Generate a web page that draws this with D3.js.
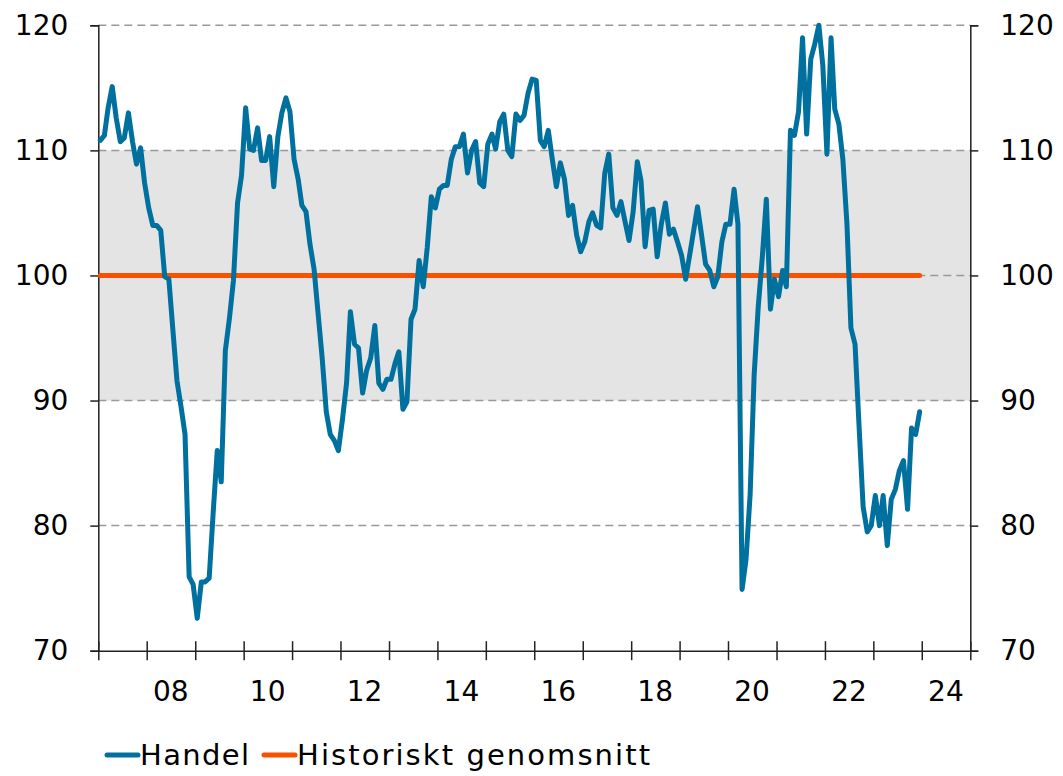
<!DOCTYPE html>
<html>
<head>
<meta charset="utf-8">
<script src="https://cdn.jsdelivr.net/npm/d3@7"></script>
<style>
  body { margin: 0; background: #fff; }
  text { font-family: "DejaVu Sans", Verdana, sans-serif; fill: #000; }
</style>
</head>
<body>
<svg width="1063" height="776"></svg>
<script>
// Handel, monthly from Jan 2007 to Dec 2023
const startYear = 2007;
const handel = [
  110.8, 111.2, 113.4, 115.1, 112.6, 110.7, 111.0, 113.0, 110.7, 108.9, 110.2, 107.4,
  105.4, 104.0, 104.0, 103.6, 99.9, 99.7, 95.7, 91.6, 89.5, 87.3, 75.9, 75.3,
  72.6, 75.5, 75.5, 75.8, 81.0, 86.0, 83.5, 94.0, 96.6, 99.6, 105.8, 108.0,
  113.4, 110.1, 110.0, 111.8, 109.2, 109.2, 111.1, 107.1, 111.1, 113.0, 114.2, 113.1,
  109.3, 107.7, 105.6, 105.1, 102.5, 100.5, 97.0, 93.4, 89.1, 87.3, 86.8, 86.0,
  88.5, 91.4, 97.1, 94.5, 94.2, 90.6, 92.4, 93.4, 96.0, 91.4, 90.9, 91.7,
  91.7, 93.0, 93.9, 89.3, 89.9, 96.5, 97.3, 101.2, 99.1, 102.2, 106.3, 105.4,
  106.9, 107.2, 107.2, 109.3, 110.3, 110.3, 111.3, 108.2, 110.0, 110.7, 107.4, 107.1,
  110.5, 111.3, 110.1, 112.3, 112.9, 110.0, 109.5, 112.9, 112.4, 112.8, 114.6, 115.7,
  115.6, 110.8, 110.3, 111.6, 109.3, 107.1, 109.0, 107.7, 104.8, 105.6, 103.2, 101.9,
  102.7, 104.3, 105.0, 104.0, 103.8, 108.2, 109.7, 105.4, 104.8, 105.9, 104.3, 102.8,
  105.1, 109.1, 107.6, 102.3, 105.2, 105.3, 101.5, 104.1, 105.8, 103.3, 103.7, 102.7,
  101.6, 99.7, 101.5, 103.5, 105.5, 103.2, 100.9, 100.4, 99.1, 99.9, 102.7, 104.1,
  104.1, 106.9, 104.1, 74.9, 77.3, 82.5, 92.0, 97.5, 101.5, 106.1, 97.3, 99.7,
  98.3, 100.4, 99.1, 111.6, 111.2, 113.1, 119.0, 111.3, 117.3, 118.5, 120.0, 116.8,
  109.7, 119.0, 113.3, 112.1, 109.3, 104.1, 95.8, 94.5, 87.8, 81.5, 79.5, 80.0,
  82.4, 80.0, 82.4, 78.4, 82.1, 82.9, 84.4, 85.2, 81.3, 87.8, 87.3, 89.1
];
const historisktSnitt = 100;
const yTicks = [70, 80, 90, 100, 110, 120];
const gridValues = [80, 90, 100, 110, 120];
const bandRange = [90, 110];
const xLabels = ['08', '10', '12', '14', '16', '18', '20', '22', '24'];
const seriesNames = ['Handel', 'Historiskt genomsnitt'];

const blue = '#00709e';
const orange = '#fa5000';

const svg = d3.select('svg');
const margin = {top: 25.3, right: 92.7, bottom: 125.3, left: 98.3};
const width = +svg.attr('width');
const height = +svg.attr('height');
const innerWidth = width - margin.left - margin.right;
const innerHeight = height - margin.top - margin.bottom;

const data = handel.map((v, i) => ({
  date: new Date(startYear, i, 16),
  value: v
}));

const xScale = d3.scaleTime()
  .domain([new Date(startYear, 0, 1), new Date(2025, 0, 1)])
  .range([0, innerWidth]);

const yScale = d3.scaleLinear()
  .domain([70, 120])
  .range([innerHeight, 0]);

const g = svg.append('g')
  .attr('transform', `translate(${margin.left}, ${margin.top})`);

// grey band 90-110
g.append('rect')
  .attr('x', 0)
  .attr('width', innerWidth)
  .attr('y', yScale(bandRange[1]))
  .attr('height', yScale(bandRange[0]) - yScale(bandRange[1]))
  .attr('fill', '#e4e4e4');

// dashed gridlines
g.selectAll('.grid').data(gridValues)
  .enter().append('line')
    .attr('class', 'grid')
    .attr('x1', 0)
    .attr('x2', innerWidth)
    .attr('y1', d => yScale(d))
    .attr('y2', d => yScale(d))
    .attr('stroke', '#999')
    .attr('stroke-width', 1.5)
    .attr('stroke-dasharray', '8,5');

// axes
const yAxisLeft = d3.axisLeft(yScale).tickValues(yTicks).tickSize(8).tickPadding(22);
const yAxisRight = d3.axisRight(yScale).tickValues(yTicks).tickSize(8).tickPadding(22);

const leftG = g.append('g').call(yAxisLeft);
const rightG = g.append('g').call(yAxisRight)
  .attr('transform', `translate(${innerWidth}, 0)`);

[leftG, rightG].forEach(ax => {
  ax.select('.domain').attr('stroke', '#222').attr('stroke-width', 1.5);
  ax.selectAll('.tick line').attr('stroke', '#222').attr('stroke-width', 1.5);
  ax.selectAll('.tick text')
    .style('font-family', '"DejaVu Sans", Verdana, sans-serif')
    .style('font-size', '28px')
    .attr('fill', '#000');
});

const xAxis = d3.axisBottom(xScale)
  .ticks(d3.timeYear.every(1))
  .tickSize(0)
  .tickFormat('');

const xAxisG = g.append('g').call(xAxis)
  .attr('transform', `translate(0, ${innerHeight})`);
xAxisG.select('.domain').attr('stroke', '#222').attr('stroke-width', 1.5);
xAxisG.selectAll('.tick line')
  .attr('y1', -9.5)
  .attr('y2', 9.5)
  .attr('stroke', '#222')
  .attr('stroke-width', 1.5);

xAxisG.selectAll('.xlab').data(xLabels)
  .enter().append('text')
    .attr('class', 'xlab')
    .attr('x', d => xScale(new Date(2000 + +d, 6, 1)))
    .attr('y', 50)
    .attr('text-anchor', 'middle')
    .style('font-size', '28px')
    .text(d => d);

// historical average
g.append('line')
  .attr('x1', xScale(data[0].date))
  .attr('x2', xScale(data[data.length - 1].date))
  .attr('y1', yScale(historisktSnitt))
  .attr('y2', yScale(historisktSnitt))
  .attr('stroke', orange)
  .attr('stroke-width', 5)
  .attr('stroke-linecap', 'round');

// Handel
const line = d3.line()
  .x(d => xScale(d.date))
  .y(d => yScale(d.value));

g.append('path')
  .datum(data)
  .attr('d', line)
  .attr('fill', 'none')
  .attr('stroke', blue)
  .attr('stroke-width', 5)
  .attr('stroke-linejoin', 'round')
  .attr('stroke-linecap', 'round');

// legend
const legend = svg.append('g').attr('transform', 'translate(107, 755)');
const legendItems = [
  {name: seriesNames[0], color: blue, x: 0, w: 109},
  {name: seriesNames[1], color: orange, x: 157, w: 353}
];
const items = legend.selectAll('g').data(legendItems)
  .enter().append('g')
    .attr('transform', d => `translate(${d.x}, 0)`);
items.append('line')
  .attr('x1', 0).attr('x2', 31)
  .attr('stroke', d => d.color)
  .attr('stroke-width', 5)
  .attr('stroke-linecap', 'round');
items.append('text')
  .attr('x', 33)
  .attr('y', 10)
  .attr('textLength', d => d.w)
  .attr('lengthAdjust', 'spacing')
  .style('font-size', '29px')
  .text(d => d.name);
</script>
</body>
</html>
